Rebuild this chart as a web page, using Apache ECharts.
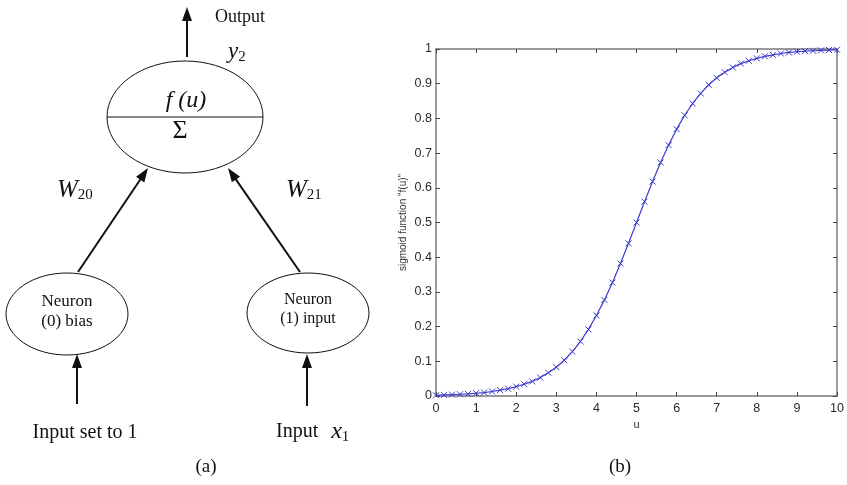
<!DOCTYPE html>
<html>
<head>
<meta charset="utf-8">
<script src="https://cdn.jsdelivr.net/npm/echarts@6/dist/echarts.min.js"></script>
<style>
  html, body { margin: 0; padding: 0; background: #fff; }
  #main { width: 847px; height: 485px; }
</style>
</head>
<body>
<div id="main"></div>
<script>
// sigmoid samples, u step 0.2
var uValues = [0, 0.2, 0.4, 0.6, 0.8, 1, 1.2, 1.4, 1.6, 1.8, 2, 2.2, 2.4, 2.6, 2.8, 3, 3.2, 3.4, 3.6, 3.8,
  4, 4.2, 4.4, 4.6, 4.8, 5, 5.2, 5.4, 5.6, 5.8, 6, 6.2, 6.4, 6.6, 6.8, 7, 7.2, 7.4, 7.6, 7.8,
  8, 8.2, 8.4, 8.6, 8.8, 9, 9.2, 9.4, 9.6, 9.8, 10]
var fValues = [0.002, 0.003, 0.004, 0.005, 0.006, 0.008, 0.010, 0.013, 0.017, 0.021, 0.027, 0.034, 0.042, 0.053, 0.067, 0.083, 0.103, 0.128, 0.157, 0.192,
  0.232, 0.277, 0.327, 0.382, 0.440, 0.500, 0.560, 0.618, 0.673, 0.723, 0.769, 0.809, 0.843, 0.872, 0.897, 0.917, 0.933, 0.947, 0.958, 0.966,
  0.973, 0.979, 0.983, 0.987, 0.990, 0.992, 0.994, 0.995, 0.996, 0.997, 0.998]
var xTicks = [0, 1, 2, 3, 4, 5, 6, 7, 8, 9, 10]
var yTicks = [0, 0.1, 0.2, 0.3, 0.4, 0.5, 0.6, 0.7, 0.8, 0.9, 1]

var chart = echarts.init(document.getElementById('main'))

var serif = '"Liberation Serif", "DejaVu Serif", serif'
var ink = '#111'

function arrow(x1, y1, x2, y2) {
  // shaft + filled head, tip at (x2, y2)
  var dx = x2 - x1, dy = y2 - y1
  var len = Math.sqrt(dx * dx + dy * dy)
  var ux = dx / len, uy = dy / len
  var hl = 14, hw = 5
  var bx = x2 - ux * hl, by = y2 - uy * hl
  return [
    { type: 'line', shape: { x1: x1, y1: y1, x2: bx + ux * 2, y2: by + uy * 2 }, style: { stroke: ink, lineWidth: 2 } },
    { type: 'polygon', shape: { points: [[x2, y2], [bx - uy * hw, by + ux * hw], [bx + uy * hw, by - ux * hw]] }, style: { fill: ink } }
  ]
}

function txt(x, y, text, size, extra) {
  var s = { text: text, x: x, y: y, fill: ink, font: size + 'px ' + serif, align: 'center', verticalAlign: 'middle' }
  if (extra) Object.assign(s, extra)
  return { type: 'text', style: s }
}

function sub(x, y, pre, main, idx, size) {
  var text = (pre ? '{c|' + pre + '}' : '') + '{a|' + main + '}{b|' + idx + '}'
  return {
    type: 'text',
    style: {
      x: x, y: y, align: 'left', verticalAlign: 'middle', text: text,
      rich: {
        c: { font: '20px ' + serif, fill: ink },
        a: { font: 'italic ' + size + 'px ' + serif, fill: ink, padding: pre ? [0, 0, 0, 13] : 0 },
        b: { font: '15px ' + serif, fill: ink, padding: [11, 0, 0, 0] }
      }
    }
  }
}

var diagram = [].concat(
  [
    { type: 'ellipse', shape: { cx: 185, cy: 117, rx: 78, ry: 56 }, style: { fill: 'none', stroke: ink, lineWidth: 1 } },
    { type: 'line', shape: { x1: 107, y1: 117, x2: 263, y2: 117 }, style: { stroke: ink, lineWidth: 1 } },
    { type: 'ellipse', shape: { cx: 67, cy: 314, rx: 61, ry: 41 }, style: { fill: 'none', stroke: ink, lineWidth: 1 } },
    { type: 'ellipse', shape: { cx: 308, cy: 313, rx: 61, ry: 40 }, style: { fill: 'none', stroke: ink, lineWidth: 1 } }
  ],
  arrow(187, 57, 187, 7),
  arrow(78, 272, 148, 168),
  arrow(300, 272, 228, 168),
  arrow(77, 404, 77, 354),
  arrow(307, 406, 307, 354),
  [
    txt(186, 101, 'f (u)', 24, { font: 'italic 24px ' + serif }),
    txt(180, 131, 'Σ', 26),
    txt(240, 17, 'Output', 18),
    sub(228, 52, '', 'y', '2', 23),
    sub(57, 190, '', 'W', '20', 25),
    sub(286, 190, '', 'W', '21', 25),
    txt(67, 302, 'Neuron', 17),
    txt(67, 322, '(0) bias', 17),
    txt(308, 300, 'Neuron', 16),
    txt(308, 319, '(1) input', 16),
    txt(85, 433, 'Input set to 1', 20),
    sub(276, 432, 'Input', 'x', '1', 24),
    txt(206, 467, '(a)', 19),
    txt(620, 467, '(b)', 19)
  ]
)

var axisGray = '#7a7a7a'
var tickLabel = { color: '#2a2a2a', fontSize: 12.5, fontFamily: 'Arial, "Liberation Sans", sans-serif' }

function frameAxis(extra) {
  return Object.assign({
    type: 'value',
    axisLine: { show: true, onZero: false, lineStyle: { color: axisGray, width: 1.5 } },
    axisTick: { show: true, inside: true, length: 4, lineStyle: { color: '#444' } },
    splitLine: { show: false }
  }, extra)
}

chart.setOption({
  backgroundColor: '#fff',
  animation: false,
  graphic: diagram,
  grid: { left: 436, right: 8, top: 49, bottom: 89 },
  xAxis: [
    frameAxis({
      min: 0, max: 10, interval: 1, position: 'bottom',
      name: 'u', nameLocation: 'middle', nameGap: 23,
      nameTextStyle: { color: '#333', fontSize: 11, fontFamily: 'Arial, "Liberation Sans", sans-serif' },
      axisLabel: Object.assign({ margin: 6, formatter: function (v) { return xTicks.indexOf(v) >= 0 ? String(v) : '' } }, tickLabel)
    }),
    frameAxis({ min: 0, max: 10, interval: 1, position: 'top', axisLabel: { show: false } })
  ],
  yAxis: [
    frameAxis({
      min: 0, max: 1, interval: 0.1, position: 'left',
      name: 'sigmoid function "f(u)"', nameLocation: 'middle', nameGap: 28, nameRotate: 90,
      nameTextStyle: { color: '#333', fontSize: 10, fontFamily: 'Arial, "Liberation Sans", sans-serif' },
      axisLabel: Object.assign({ margin: 4, formatter: function (v) { return String(Math.round(v * 10) / 10) } }, tickLabel)
    }),
    frameAxis({ min: 0, max: 1, interval: 0.1, position: 'right', axisLabel: { show: false } })
  ],
  series: [
    {
      type: 'line',
      data: uValues.map(function (u, i) { return [u, fValues[i]] }),
      lineStyle: { color: '#3c3cd4', width: 1.2 },
      symbol: 'path://M0,0L10,10M10,0L0,10',
      symbolSize: 6,
      itemStyle: { color: 'none', borderColor: '#3a3ad0', borderWidth: 1 },
      showSymbol: true
    }
  ]
})
</script>
</body>
</html>
